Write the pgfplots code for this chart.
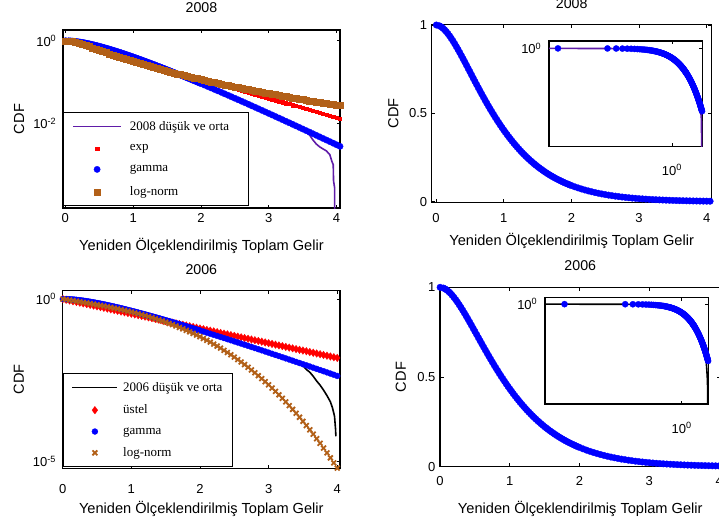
\documentclass[border=0pt]{standalone}
\usepackage{fontspec}
\setmainfont{Liberation Sans}
\newfontfamily\legfont{Liberation Serif}
\usepackage{pgfplots}
\usepackage{pgfplotstable}
\pgfplotsset{compat=1.18}

\definecolor{fitred}{RGB}{255,0,0}
\definecolor{fitblue}{RGB}{0,0,255}
\definecolor{fitbrown}{RGB}{178,96,24}
\definecolor{emppurple}{RGB}{96,28,168}

% 2008: exponential and log-normal fits
\pgfplotstableread{
x exp logn
0.005 0.9947 1.0000
0.05 0.9479 0.9956
0.10 0.8985 0.9715
0.15 0.8517 0.9309
0.20 0.8073 0.8820
0.25 0.7653 0.8298
0.30 0.7254 0.7779
0.35 0.6876 0.7278
0.40 0.6518 0.6800
0.45 0.6178 0.6353
0.50 0.5857 0.5937
0.55 0.5552 0.5550
0.60 0.5262 0.5193
0.65 0.4988 0.4863
0.70 0.4729 0.4558
0.75 0.4482 0.4276
0.80 0.4249 0.4017
0.85 0.4027 0.3776
0.90 0.3817 0.3554
0.95 0.3618 0.3348
1.00 0.3430 0.3156
1.05 0.3251 0.2980
1.10 0.3082 0.2815
1.15 0.2921 0.2662
1.20 0.2769 0.2520
1.25 0.2625 0.2386
1.30 0.2488 0.2264
1.35 0.2358 0.2146
1.40 0.2236 0.2039
1.45 0.2119 0.1938
1.50 0.2009 0.1841
1.55 0.1904 0.1755
1.60 0.1805 0.1671
1.65 0.1711 0.1590
1.70 0.1622 0.1519
1.75 0.1537 0.1450
1.80 0.1457 0.1383
1.85 0.1381 0.1322
1.90 0.1310 0.1265
1.95 0.1241 0.1209
2.00 0.1177 0.1155
2.05 0.1115 0.1108
2.10 0.1057 0.1062
2.15 0.1002 0.1018
2.20 0.0950 0.0974
2.25 0.0900 0.0936
2.30 0.0854 0.0900
2.35 0.0809 0.0864
2.40 0.0767 0.0829
2.45 0.0727 0.0797
2.50 0.0689 0.0768
2.55 0.0653 0.0739
2.60 0.0619 0.0711
2.65 0.0587 0.0683
2.70 0.0556 0.0658
2.75 0.0527 0.0635
2.80 0.0500 0.0613
2.85 0.0474 0.0591
2.90 0.0449 0.0569
2.95 0.0426 0.0548
3.00 0.0404 0.0530
3.05 0.0383 0.0513
3.10 0.0363 0.0495
3.15 0.0344 0.0479
3.20 0.0326 0.0462
3.25 0.0309 0.0446
3.30 0.0293 0.0432
3.35 0.0277 0.0418
3.40 0.0263 0.0405
3.45 0.0249 0.0392
3.50 0.0236 0.0379
3.55 0.0224 0.0366
3.60 0.0212 0.0354
3.65 0.0201 0.0344
3.70 0.0191 0.0334
3.75 0.0181 0.0324
3.80 0.0172 0.0314
3.85 0.0163 0.0304
3.90 0.0154 0.0295
3.95 0.0146 0.0286
4.00 0.0138 0.0278
4.05 0.0131 0.0270
}\topfit

% 2008: gamma fit
\pgfplotstableread{
x y
0.005 0.99995
0.05 0.99532
0.075 0.98981
0.10 0.98248
0.125 0.97350
0.15 0.96306
0.175 0.95133
0.20 0.93845
0.225 0.92456
0.25 0.90980
0.275 0.89427
0.30 0.87810
0.325 0.86138
0.35 0.84419
0.375 0.82664
0.40 0.80879
0.425 0.79072
0.45 0.77248
0.475 0.75414
0.50 0.73576
0.525 0.71737
0.55 0.69903
0.575 0.68077
0.60 0.66263
0.625 0.64464
0.65 0.62682
0.675 0.60921
0.70 0.59183
0.725 0.57470
0.75 0.55783
0.775 0.54123
0.80 0.52493
0.825 0.50893
0.85 0.49325
0.875 0.47788
0.90 0.46284
0.925 0.44813
0.95 0.43375
0.975 0.41971
1.00 0.40601
1.025 0.39264
1.05 0.37961
1.075 0.36692
1.10 0.35457
1.125 0.34255
1.15 0.33085
1.175 0.31949
1.20 0.30844
1.225 0.29771
1.25 0.28730
1.275 0.27719
1.30 0.26739
1.325 0.25788
1.35 0.24866
1.375 0.23973
1.40 0.23108
1.425 0.22270
1.45 0.21459
1.475 0.20674
1.50 0.19915
1.525 0.19180
1.55 0.18470
1.575 0.17784
1.60 0.17120
1.625 0.16479
1.65 0.15860
1.675 0.15262
1.70 0.14684
1.725 0.14127
1.75 0.13589
1.775 0.13070
1.80 0.12569
1.825 0.12086
1.85 0.11620
1.875 0.11171
1.90 0.10738
1.925 0.10321
1.95 0.09919
1.975 0.09531
2.00 0.09158
2.05 0.08452
2.10 0.07798
2.15 0.07192
2.20 0.06630
2.25 0.06110
2.30 0.05629
2.35 0.05184
2.40 0.04773
2.45 0.04394
2.50 0.04043
2.55 0.03719
2.60 0.03421
2.65 0.03145
2.70 0.02891
2.75 0.02657
2.80 0.02441
2.85 0.02242
2.90 0.02059
2.95 0.01890
3.00 0.01735
3.05 0.01593
3.10 0.01461
3.15 0.01340
3.20 0.01230
3.25 0.01127
3.30 0.01034
3.35 0.00948
3.40 0.00869
3.45 0.00796
3.50 0.00730
3.55 0.00668
3.60 0.00613
3.65 0.00561
3.70 0.00513
3.75 0.00470
3.80 0.00430
3.85 0.00394
3.90 0.00361
3.95 0.00330
4.00 0.00302
4.05 0.00277
}\topgam

% 2008: empirical low and middle income curve
\pgfplotstableread{
x y
0.001 1.0
0.005 0.99995
0.1 0.98248
0.2 0.93845
0.3 0.8790
0.4 0.815
0.5 0.746
0.6 0.675
0.7 0.604
0.8 0.532
0.9 0.4655
1.0 0.40601
1.1 0.35457
1.2 0.30844
1.3 0.26739
1.4 0.23108
1.5 0.19915
1.6 0.17120
1.7 0.14684
1.8 0.12569
1.9 0.10738
2.0 0.09158
2.1 0.07798
2.2 0.06630
2.3 0.05629
2.4 0.04773
2.5 0.04043
2.6 0.03421
2.7 0.02891
2.8 0.02441
2.9 0.02059
3.0 0.01735
3.1 0.01461
3.2 0.01230
3.3 0.01034
3.4 0.00869
3.5 0.00730
3.55 0.00603
3.6 0.00525
3.65 0.00398
3.7 0.00316
3.75 0.00269
3.8 0.00240
3.85 0.00214
3.9 0.00174
3.93 0.00120
3.95 0.00100
3.955 0.00040
3.97 0.00028
3.975 0.00001
}\topemp

% 2006: exponential and log-normal fits
\pgfplotstableread{
x exp logn
0.002 0.9979 0.9984
0.05 0.9492 0.9616
0.10 0.9010 0.9246
0.15 0.8552 0.8889
0.20 0.8117 0.8541
0.25 0.7705 0.8205
0.30 0.7313 0.7878
0.35 0.6942 0.7559
0.40 0.6589 0.7247
0.45 0.6254 0.6943
0.50 0.5936 0.6645
0.55 0.5635 0.6353
0.60 0.5348 0.6068
0.65 0.5077 0.5788
0.70 0.4819 0.5513
0.75 0.4574 0.5244
0.80 0.4341 0.4980
0.85 0.4121 0.4722
0.90 0.3911 0.4469
0.95 0.3713 0.4222
1.00 0.3524 0.3981
1.05 0.3345 0.3746
1.10 0.3175 0.3517
1.15 0.3014 0.3294
1.20 0.2861 0.3078
1.25 0.2715 0.2869
1.30 0.2577 0.2668
1.35 0.2446 0.2473
1.40 0.2322 0.2287
1.45 0.2204 0.2109
1.50 0.2092 0.1939
1.55 0.1986 0.1777
1.60 0.1885 0.1623
1.65 0.1789 0.1477
1.70 0.1698 0.1340
1.75 0.1612 0.1212
1.80 0.1530 0.1092
1.85 0.1452 0.0980
1.90 0.1378 0.0876
1.95 0.1308 0.0780
2.00 0.1242 0.0692
2.05 0.1179 0.0611
2.10 0.1119 0.0537
2.15 0.1062 0.0471
2.20 0.1008 0.0410
2.25 0.0957 0.0356
2.30 0.0908 0.0308
2.35 0.0862 0.0264
2.40 0.0818 0.0226
2.45 0.0776 0.0193
2.50 0.0737 0.0163
2.55 0.0700 0.0137
2.60 0.0664 0.0115
2.65 0.0630 0.00960
2.70 0.0598 0.00796
2.75 0.0568 0.00656
2.80 0.0539 0.00538
2.85 0.0512 0.00438
2.90 0.0486 0.00355
2.95 0.0461 0.00286
3.00 0.0438 0.00229
3.05 0.0415 0.00182
3.10 0.0394 0.00144
3.15 0.0374 0.00113
3.20 0.0355 0.000883
3.25 0.0337 0.000684
3.30 0.0320 0.000527
3.35 0.0304 0.000403
3.40 0.0288 0.000306
3.45 0.0274 0.000231
3.50 0.0260 0.000173
3.55 0.0247 0.000128
3.60 0.0234 0.0000948
3.65 0.0222 0.0000694
3.70 0.0211 0.0000504
3.75 0.0200 0.0000364
3.80 0.0190 0.0000260
3.85 0.0180 0.0000185
3.90 0.0171 0.0000130
3.95 0.0162 0.00000910
4.00 0.0154 0.00000631
4.05 0.0146 0.00000434
}\botfit

% 2006: gamma fit
\pgfplotstableread{
x y
0.002 1.0000
0.05 0.99576
0.075 0.99076
0.10 0.98408
0.125 0.97589
0.15 0.96633
0.175 0.95558
0.20 0.94373
0.225 0.93093
0.25 0.91729
0.275 0.90290
0.30 0.88788
0.325 0.87232
0.35 0.85628
0.375 0.83984
0.40 0.82310
0.425 0.80611
0.45 0.78889
0.475 0.77156
0.50 0.75414
0.525 0.73668
0.55 0.71921
0.575 0.70178
0.60 0.68441
0.625 0.66714
0.65 0.65001
0.675 0.63303
0.70 0.61624
0.725 0.59963
0.75 0.58324
0.775 0.56707
0.80 0.55115
0.825 0.53548
0.85 0.52010
0.875 0.50497
0.90 0.49016
0.925 0.47561
0.95 0.46134
0.975 0.44739
1.00 0.43375
1.025 0.42040
1.05 0.40735
1.075 0.39461
1.10 0.38220
1.125 0.37007
1.15 0.35825
1.175 0.34672
1.20 0.33548
1.225 0.32456
1.25 0.31391
1.275 0.30357
1.30 0.29349
1.325 0.28372
1.35 0.27422
1.375 0.26498
1.40 0.25602
1.425 0.24733
1.45 0.23886
1.475 0.23066
1.50 0.22268
1.525 0.21498
1.55 0.20751
1.575 0.20026
1.60 0.19323
1.625 0.18643
1.65 0.17987
1.675 0.17349
1.70 0.16734
1.725 0.16135
1.75 0.15557
1.775 0.14998
1.80 0.14458
1.825 0.13934
1.85 0.13432
1.875 0.12944
1.90 0.12470
1.925 0.12016
1.95 0.11574
1.975 0.11149
2.00 0.10738
2.05 0.09956
2.10 0.09232
2.15 0.08553
2.20 0.07925
2.25 0.07338
2.30 0.06793
2.35 0.06285
2.40 0.05816
2.45 0.05378
2.50 0.04974
2.55 0.04600
2.60 0.04247
2.65 0.03929
2.70 0.03629
2.75 0.03349
2.80 0.03090
2.85 0.02855
2.90 0.02637
2.95 0.02431
3.00 0.02245
3.05 0.02066
3.10 0.01908
3.15 0.01760
3.20 0.01621
3.25 0.01492
3.30 0.01374
3.35 0.01267
3.40 0.01164
3.45 0.01073
3.50 0.00987
3.55 0.00914
3.60 0.00839
3.65 0.00772
3.70 0.00711
3.75 0.00654
3.80 0.00602
3.85 0.00553
3.90 0.00509
3.95 0.00468
4.00 0.00430
4.05 0.00396
}\botgam

% 2006: empirical low and middle income curve
\pgfplotstableread{
x y
0.0002 1.0
0.002 1.0
0.1 0.98408
0.2 0.94373
0.3 0.8890
0.4 0.832
0.5 0.766
0.6 0.697
0.7 0.628
0.8 0.558
0.9 0.4935
1.0 0.43375
1.1 0.38220
1.2 0.33548
1.3 0.29349
1.4 0.25602
1.5 0.22268
1.6 0.19323
1.7 0.16734
1.8 0.14458
1.9 0.12470
2.0 0.10738
2.1 0.09232
2.2 0.07925
2.3 0.06793
2.4 0.05816
2.5 0.04974
2.6 0.04247
2.7 0.03629
2.8 0.03090
2.9 0.02637
3.0 0.02245
3.1 0.01908
3.2 0.01621
3.3 0.01374
3.4 0.01164
3.45 0.0104
3.5 0.0089
3.55 0.0068
3.6 0.0056
3.65 0.0042
3.7 0.0030
3.75 0.00224
3.8 0.00158
3.85 0.00107
3.9 0.00069
3.93 0.00045
3.96 0.00025
3.975 0.0001
3.98 0.00006
}\botemp

\pgfplotsset{
  frame/.style={
    scale only axis,
    anchor=south west,
    axis line style={line width=1.3pt},
    every tick/.style={black, line width=0.9pt},
    major tick length=3.5pt,
    tick align=inside,
    xtick pos=both, ytick pos=both,
    tick label style={scale=1.3},
    title style={anchor=base, scale=1.42},
    xlabel style={anchor=base, scale=1.46},
    ylabel style={anchor=base, scale=1.46},
  },
  panel/.style={
    frame,
    xlabel={Yeniden Ölçeklendirilmiş Toplam Gelir},
    ylabel={CDF},
    xtick={0,1,2,3,4}, xticklabels={0,1,2,3,4},
  },
  inset/.style={
    frame,
    axis background/.style={fill=white},
    xtick={1}, xticklabels={10\textsuperscript{0}},
    ytick={1}, yticklabels={10\textsuperscript{0}},
    yticklabel style={xshift=-2.3pt},
  },
  leg/.style n args={4}{
    legend cell align=left,
    legend style={at={(axis description cs:0,#1)}, anchor=north west,
      draw=black, line width=1.2pt, fill=white,
      inner xsep=#3, inner ysep=6.5pt, row sep=#2,
      font=\legfont\fontsize{13}{15}\selectfont,
      /tikz/every odd column/.append style={column sep=#4}},
  },
}

\begin{document}
\begin{tikzpicture}

% ---------- 2008, semi-log ----------
\begin{axis}[panel, at={(63pt,-208pt)}, width=277pt, height=178pt,
  xmin=-0.034, xmax=4.05, ymode=log, ymin=8.9e-5, ymax=1.82,
  ytick={0.01,1}, yticklabels={10\textsuperscript{-2},10\textsuperscript{0}},
  yticklabel style={xshift=-1.5pt},
  xticklabel style={anchor=base, yshift=-11.1pt},
  title={2008}, title style={at={(axis description cs:0.5,1.0657)}},
  xlabel style={at={(axis description cs:0.5,-0.2399)}},
  ylabel style={at={(axis description cs:-0.1408,0.5)}},
  leg={0.539}{9pt}{8.7pt}{6pt},
  legend image code/.code={\path[draw=none,fill=none] (0pt,-3pt) rectangle (48pt,3pt);
    \draw[mark repeat=2,mark phase=2,#1] plot coordinates {(0pt,0pt) (24pt,0pt) (48pt,0pt)};},
]
\addplot[emppurple, line width=1.6pt] table[x=x,y=y]{\topemp};
\addlegendentry{2008 düşük ve orta\hspace*{8.6pt}}
\addplot[only marks, mark=square*, mark size=1.6pt, fitred, mark options={line width=0.3pt}] table[x=x,y=exp]{\topfit};
\addlegendentry{exp}
\addplot[only marks, mark=*, mark size=3.2pt, fitblue, mark options={line width=0.3pt}] table[x=x,y=y]{\topgam};
\addlegendentry{gamma}
\addplot[only marks, mark=square*, mark size=3pt, fitbrown, mark options={line width=0.3pt}] table[x=x,y=logn]{\topfit};
\addlegendentry{log-norm}
\end{axis}

% ---------- 2008, linear ----------
\begin{axis}[panel, at={(431.7pt,-202.3pt)}, width=280pt, height=178pt,
  xmin=-0.064, xmax=4.074, ymin=-0.0034, ymax=1.004,
  ytick={0,0.5,1}, yticklabels={0,0.5,1},
  xticklabel style={anchor=base, yshift=-15.7pt},
  title={2008}, title style={at={(axis description cs:0.5,1.0562)}},
  xlabel style={at={(axis description cs:0.5,-0.2399)}},
  ylabel style={at={(axis description cs:-0.1193,0.5)}},
]
\addplot[emppurple, line width=1.6pt] table[x=x,y=y]{\topemp};
\addplot[only marks, mark=*, mark size=3.3pt, fitblue, mark options={line width=0.3pt}] table[x=x,y=y]{\topgam};
\end{axis}

\begin{axis}[inset, xmode=log, ymode=log, at={(549pt,-146.7pt)}, width=153.3pt, height=105.7pt,
  xmin=0.0033, xmax=4.1, ymin=1e-4, ymax=2,
  xticklabel style={anchor=base, yshift=-21.8pt},
]
\addplot[emppurple, line width=1.6pt] table[x=x,y=y]{\topemp};
\addplot[only marks, mark=*, mark size=3.1pt, fitblue, mark options={line width=0.3pt}] table[x=x,y=y]{\topgam};
\end{axis}

% ---------- 2006, semi-log ----------
\begin{axis}[panel, at={(62.7pt,-468.3pt)}, width=277.3pt, height=177.6pt,
  xmin=0, xmax=4.04, ymode=log, ymin=6.2e-6, ymax=1.8,
  ytick={1e-5,1}, yticklabels={10\textsuperscript{-5},10\textsuperscript{0}},
  yticklabel style={xshift=-1.5pt},
  xticklabel style={anchor=base, yshift=-19.2pt},
  title={2006}, title style={at={(axis description cs:0.5,1.0602)}},
  xlabel style={at={(axis description cs:0.5,-0.2534)}},
  ylabel style={at={(axis description cs:-0.1396,0.5)}},
  leg={0.535}{8pt}{8.3pt}{3pt},
  legend image code/.code={\path[draw=none,fill=none] (0pt,-3pt) rectangle (45pt,3pt);
    \draw[mark repeat=2,mark phase=2,#1] plot coordinates {(0pt,0pt) (22.5pt,0pt) (45pt,0pt)};},
]
\addplot[black, line width=1.6pt] table[x=x,y=y]{\botemp};
\addlegendentry{2006 düşük ve orta}
\addplot[only marks, mark=diamond*, mark size=3.8pt, fitred, mark options={line width=0.3pt}] table[x=x,y=exp]{\botfit};
\addlegendentry{üstel}
\addplot[only marks, mark=*, mark size=3pt, fitblue, mark options={line width=0.3pt}] table[x=x,y=y]{\botgam};
\addlegendentry{gamma}
\addplot[only marks, mark=x, mark size=3.4pt, fitbrown, mark options={line width=1.8pt}] table[x=x,y=logn]{\botfit};
\addlegendentry{log-norm}
\end{axis}

% ---------- 2006, linear ----------
\begin{axis}[panel, at={(440pt,-466.7pt)}, width=280.5pt, height=179.4pt,
  xmin=0, xmax=4.02, ymin=0, ymax=1,
  ytick={0,0.5,1}, yticklabels={0,0.5,1},
  xticklabel style={anchor=base, yshift=-14.6pt},
  title={2006}, title style={at={(axis description cs:0.5,1.059)}},
  xlabel style={at={(axis description cs:0.5,-0.2598)}},
  ylabel style={at={(axis description cs:-0.1219,0.5)}},
]
\addplot[black, line width=1.6pt] table[x=x,y=y]{\botemp};
\addplot[only marks, mark=*, mark size=3.3pt, fitblue, mark options={line width=0.3pt}] table[x=x,y=y]{\botgam};
\end{axis}

\begin{axis}[inset, xmode=log, ymode=log, at={(545pt,-404pt)}, width=163.3pt, height=106.7pt,
  xmin=7.1e-4, xmax=4.1, ymin=6e-5, ymax=1.95,
  xticklabel style={anchor=base, yshift=-22.5pt},
]
\addplot[black, line width=1.6pt] table[x=x,y=y]{\botemp};
\addplot[only marks, mark=*, mark size=3.1pt, fitblue, mark options={line width=0.3pt}] table[x=x,y=y]{\botgam};
\end{axis}

\pgfresetboundingbox
\path[use as bounding box] (0pt,0pt) rectangle (719pt,-522pt);
\end{tikzpicture}
\end{document}
